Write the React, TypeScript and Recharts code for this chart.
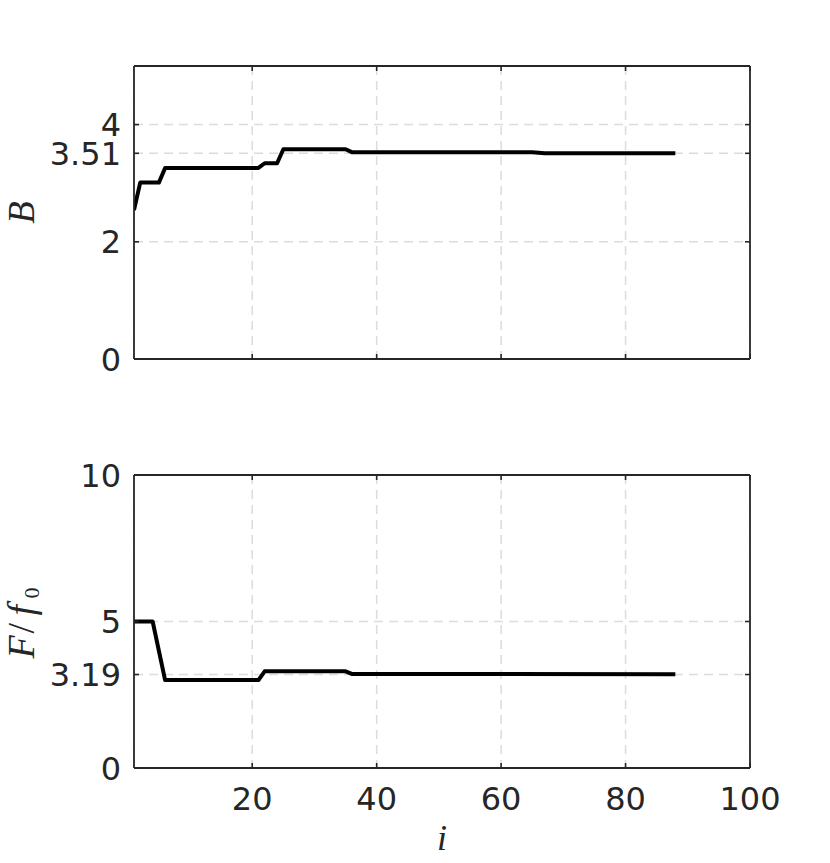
import React from 'react';
import { LineChart, Line, XAxis, YAxis, CartesianGrid } from 'recharts';

// Top panel: B vs iteration i (breakpoints)
const bIter = [1, 2, 5, 6, 21, 22, 24, 25, 35, 36, 65, 67, 88];
const bVals = [2.54, 3.01, 3.01, 3.26, 3.26, 3.34, 3.34, 3.58, 3.58, 3.53, 3.53, 3.51, 3.51];
const bTicks = [0, 2, 3.51, 4];
const bDomain = [0, 5];

// Bottom panel: F/f0 vs iteration i
const fIter = [1, 4, 6, 21, 22, 35, 36, 88];
const fVals = [5.0, 5.0, 3.0, 3.0, 3.3, 3.3, 3.21, 3.2];
const fTicks = [0, 3.19, 5, 10];
const fDomain = [0, 10];

const xTicks = [20, 40, 60, 80, 100];
const xDomain = [1, 100];

const topData = bIter.map((i, k) => ({ i, v: bVals[k] }));
const botData = fIter.map((i, k) => ({ i, v: fVals[k] }));

const AX = '#262626';
const GRID = '#dcdcdc';
const TICK_FONT = '"DejaVu Sans", sans-serif';
const MATH_FONT = '"Liberation Serif", "DejaVu Serif", serif';
const TL = 5;
const TFS = 32;

const makeTick = (side: 'left' | 'right' | 'top' | 'bottom', showLabel: boolean) => (props: any) => {
  const { x, y, payload } = props;
  let line;
  if (side === 'left') line = <line x1={x} x2={x + TL} y1={y} y2={y} stroke={AX} strokeWidth={1.6} />;
  else if (side === 'right') line = <line x1={x} x2={x - TL} y1={y} y2={y} stroke={AX} strokeWidth={1.6} />;
  else if (side === 'top') line = <line x1={x} x2={x} y1={y} y2={y + TL} stroke={AX} strokeWidth={1.6} />;
  else line = <line x1={x} x2={x} y1={y} y2={y - TL} stroke={AX} strokeWidth={1.6} />;
  let label = null;
  if (showLabel && side === 'left') {
    label = (
      <text x={x - 13} y={y} dy="0.36em" textAnchor="end" fill={AX} fontSize={TFS} fontFamily={TICK_FONT}>
        {payload.value}
      </text>
    );
  } else if (showLabel && side === 'bottom') {
    label = (
      <text x={x} y={y + 30} dy="0.36em" textAnchor="middle" fill={AX} fontSize={TFS} fontFamily={TICK_FONT}>
        {payload.value}
      </text>
    );
  }
  return (
    <g>
      {line}
      {label}
    </g>
  );
};

const BLabel = (p: any) => {
  const vb = p.viewBox;
  const cx = vb.x + vb.width - 100;
  const cy = vb.y + vb.height / 2;
  return (
    <text x={cx} y={cy} transform={`rotate(-90, ${cx}, ${cy})`} textAnchor="middle" fill={AX}
      fontSize={37} fontFamily={MATH_FONT} fontStyle="italic">
      B
    </text>
  );
};

const FLabel = (p: any) => {
  const vb = p.viewBox;
  const cx = vb.x + vb.width - 100;
  const cy = vb.y + vb.height / 2;
  return (
    <text x={cx} y={cy} transform={`rotate(-90, ${cx}, ${cy})`} textAnchor="start" fill={AX}
      fontSize={38} fontFamily={MATH_FONT}>
      <tspan x={cx - 37} fontStyle="italic">F</tspan>
      <tspan x={cx - 12}>/</tspan>
      <tspan x={cx + 6} fontStyle="italic">f</tspan>
      <tspan x={cx + 23} dy={5} fontSize={22}>0</tspan>
    </text>
  );
};

const ILabel = (p: any) => {
  const vb = p.viewBox;
  const cx = vb.x + vb.width / 2;
  const cy = vb.y + 82;
  return (
    <text x={cx} y={cy} textAnchor="middle" fill={AX} fontSize={36} fontFamily={MATH_FONT} fontStyle="italic">
      i
    </text>
  );
};

const axisLine = { stroke: AX, strokeWidth: 1.8 };

function Panel(props: {
  data: any[];
  width: number;
  height: number;
  margin: any;
  yTicks: number[];
  yDomain: number[];
  showX: boolean;
  yLabel: any;
}) {
  const { data, width, height, margin, yTicks, yDomain, showX, yLabel } = props;
  return (
    <LineChart width={width} height={height} data={data} margin={margin}>
      <CartesianGrid xAxisId="b" yAxisId="l" stroke={GRID} strokeWidth={1.5} strokeDasharray="9 6" />
      <XAxis xAxisId="b" dataKey="i" type="number" domain={xDomain} ticks={xTicks} interval={0}
        orientation="bottom" height={1} tickSize={0} tickMargin={0} tickLine={false}
        axisLine={axisLine} tick={makeTick('bottom', showX)} allowDataOverflow
        label={showX ? { content: ILabel } : undefined} />
      <XAxis xAxisId="t" dataKey="i" type="number" domain={xDomain} ticks={xTicks} interval={0}
        orientation="top" height={1} tickSize={0} tickMargin={0} tickLine={false}
        axisLine={axisLine} tick={makeTick('top', false)} allowDataOverflow />
      <YAxis yAxisId="l" type="number" domain={yDomain} ticks={yTicks} interval={0}
        orientation="left" width={1} tickSize={0} tickMargin={0} tickLine={false}
        axisLine={axisLine} tick={makeTick('left', true)} allowDataOverflow
        label={{ content: yLabel }} />
      <YAxis yAxisId="r" type="number" domain={yDomain} ticks={yTicks} interval={0}
        orientation="right" width={1} tickSize={0} tickMargin={0} tickLine={false}
        axisLine={axisLine} tick={makeTick('right', false)} allowDataOverflow />
      <Line xAxisId="b" yAxisId="l" dataKey="v" type="linear" stroke="#000000" strokeWidth={4}
        strokeLinejoin="round" dot={false} activeDot={false} isAnimationActive={false} />
    </LineChart>
  );
}

export default function App() {
  return (
    <div style={{ position: 'absolute', left: 0, top: 0, width: 830, height: 863, background: '#fff' }}>
      <div style={{ position: 'absolute', left: 0, top: 0 }}>
        <Panel data={topData} width={830} height={420}
          margin={{ top: 65, right: 79, bottom: 60, left: 133 }}
          yTicks={bTicks} yDomain={bDomain} showX={false} yLabel={BLabel} />
      </div>
      <div style={{ position: 'absolute', left: 0, top: 420 }}>
        <Panel data={botData} width={830} height={443}
          margin={{ top: 54, right: 79, bottom: 94, left: 133 }}
          yTicks={fTicks} yDomain={fDomain} showX={true} yLabel={FLabel} />
      </div>
    </div>
  );
}
